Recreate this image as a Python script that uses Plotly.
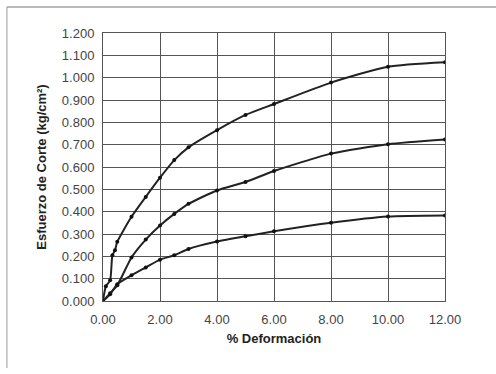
import plotly.graph_objects as go

# Data
x_top = [0, 0.1, 0.25, 0.33, 0.42, 0.5, 1.0, 1.5, 2.0, 2.5, 3.0, 4.0, 5.0, 6.0, 8.0, 10.0, 12.0]
y_top = [0, 0.066, 0.093, 0.205, 0.227, 0.265, 0.377, 0.466, 0.552, 0.631, 0.688, 0.765, 0.833, 0.882, 0.978, 1.049, 1.069]

x_mid = [0, 0.25, 0.5, 1.0, 1.5, 2.0, 2.5, 3.0, 4.0, 5.0, 6.0, 8.0, 10.0, 12.0]
y_mid = [0, 0.035, 0.07, 0.195, 0.275, 0.338, 0.39, 0.435, 0.495, 0.533, 0.582, 0.66, 0.702, 0.723]

x_low = [0, 0.25, 0.5, 1.0, 1.5, 2.0, 2.5, 3.0, 4.0, 5.0, 6.0, 8.0, 10.0, 12.0]
y_low = [0, 0.03, 0.075, 0.115, 0.15, 0.185, 0.205, 0.233, 0.266, 0.29, 0.312, 0.35, 0.378, 0.383]

x_ticks = [0, 2, 4, 6, 8, 10, 12]
y_ticks = [i / 10 for i in range(13)]

fig = go.Figure()
for xs, ys in [(x_top, y_top), (x_mid, y_mid), (x_low, y_low)]:
    fig.add_trace(go.Scatter(
        x=xs, y=ys, mode="lines+markers",
        line=dict(color="#222222", width=2, shape="spline", smoothing=0.6),
        marker=dict(color="#111111", size=4),
        showlegend=False,
    ))

font = dict(family="Liberation Sans, Arial, sans-serif", color="#333333", size=13)

fig.update_layout(
    width=496, height=374,
    margin=dict(l=103, r=51, t=33, b=73),
    paper_bgcolor="white", plot_bgcolor="white",
    font=font,
    xaxis=dict(
        range=[0, 12], tickvals=x_ticks, tickformat=".2f",
        showgrid=True, gridcolor="#555555", gridwidth=1,
        showline=True, linecolor="#555555", linewidth=1, mirror=True,
        zeroline=False, ticks="", ticklabelstandoff=6,
        title=dict(text="<b>% Deformación</b>", font=dict(size=13, color="#222222"), standoff=8),
        tickfont=dict(size=13, color="#444444"),
    ),
    yaxis=dict(
        range=[0, 1.2], tickvals=y_ticks, tickformat=".3f",
        showgrid=True, gridcolor="#555555", gridwidth=1,
        showline=True, linecolor="#555555", linewidth=1, mirror=True,
        zeroline=False, ticks="", ticklabelstandoff=5,
        title=dict(text="<b>Esfuerzo de Corte (kg/cm²)</b>", font=dict(size=13, color="#222222"), standoff=12),
        tickfont=dict(size=13, color="#444444"),
    ),
    shapes=[
        dict(type="line", xref="paper", yref="paper", x0=-0.281, x1=1.2, y0=1.097, y1=1.097,
             line=dict(color="#777777", width=1)),
        dict(type="line", xref="paper", yref="paper", x0=-0.281, x1=-0.281, y0=1.097, y1=-0.25,
             line=dict(color="#999999", width=1)),
    ],
)

fig.write_html(
    "out.html",
    config={"displayModeBar": False},
    post_script="document.body.style.margin='0px';document.body.style.overflow='hidden';",
)
